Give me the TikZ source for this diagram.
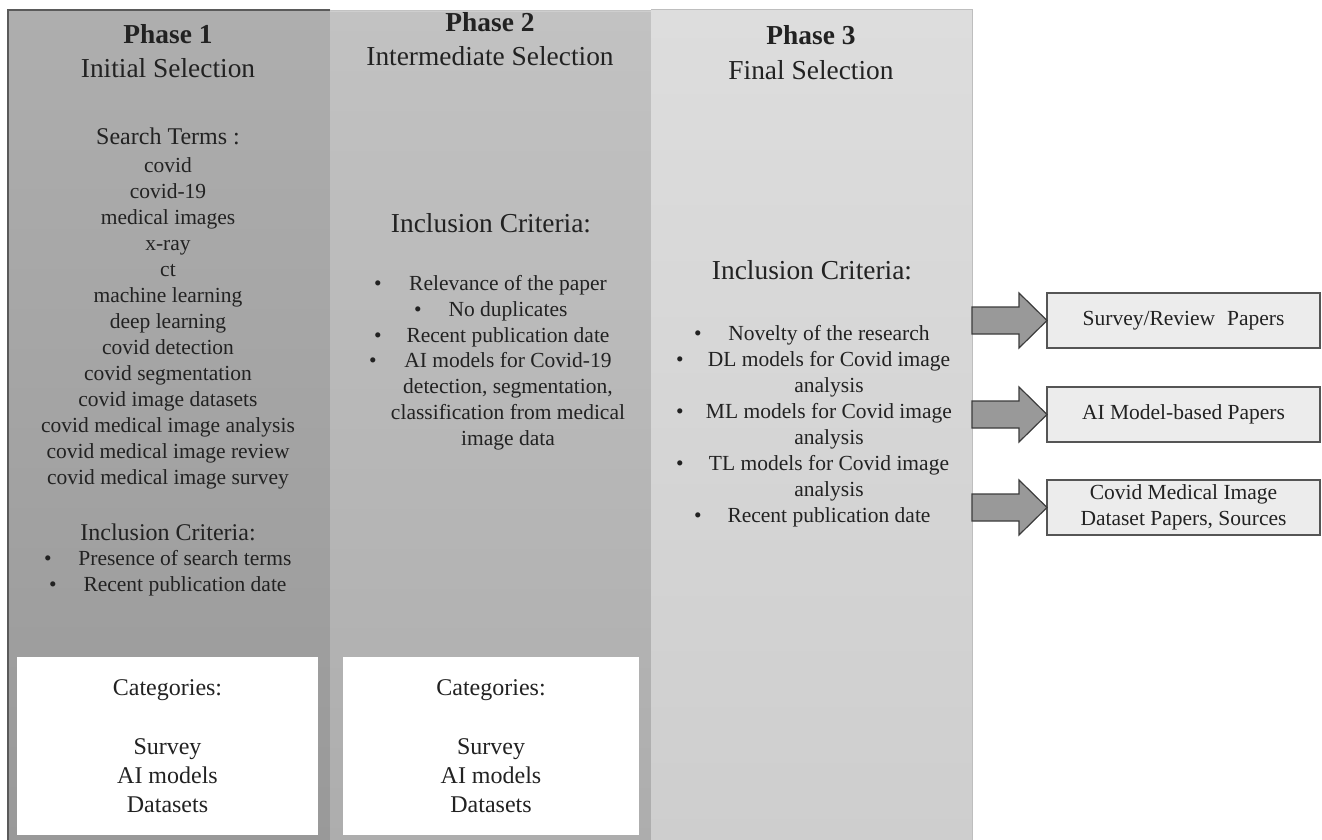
\documentclass[tikz,border=0pt]{standalone}
\usepackage{fontspec}
\setmainfont{Liberation Serif}
\usetikzlibrary{calc,shadings}

\definecolor{ink}{HTML}{222222}
\definecolor{colAtop}{HTML}{AEAEAE}
\definecolor{colAbot}{HTML}{999999}
\definecolor{colBtop}{HTML}{C2C2C2}
\definecolor{colBbot}{HTML}{ADADAD}
\definecolor{colCtop}{HTML}{DDDDDD}
\definecolor{colCbot}{HTML}{CECECE}
\definecolor{edgeA}{HTML}{5A5A5A}
\definecolor{edgeC}{HTML}{BEBEBE}
\definecolor{arrowfill}{HTML}{999999}
\definecolor{arrowedge}{HTML}{3C3C3C}
\definecolor{outfill}{HTML}{ECECEC}
\definecolor{outedge}{HTML}{555555}

\begin{document}
\begin{tikzpicture}[x=1pt,y=-1pt,
  column/.style={inner sep=0pt, outer sep=0pt, minimum width=321pt,
    minimum height=836pt, anchor=north west},
  body/.style={font=\fontsize{21.5}{26}\selectfont, text=ink, inner sep=0pt, anchor=base},
  mid/.style={font=\fontsize{24}{29}\selectfont, text=ink, inner sep=0pt, anchor=base},
  big/.style={font=\fontsize{27.4}{32}\selectfont, text=ink, inner sep=0pt, anchor=base},
  phase/.style={font=\fontsize{27.4}{32}\selectfont\bfseries, text=ink, inner sep=0pt, anchor=base},
  dot/.style={body},
  catbox/.style={fill=white, inner sep=0pt, outer sep=0pt, anchor=north west},
  outbox/.style={draw=outedge, line width=1.2pt, fill=outfill, inner sep=0pt, outer sep=0pt,
    minimum width=273pt, minimum height=55pt, align=center,
    font=\fontsize{21.5}{26}\selectfont, text=ink},
  blockarrow/.style={draw=arrowedge, fill=arrowfill, line width=1.2pt, line join=miter}]
\useasboundingbox (0,0) rectangle (1322,840);

% ---- the three phase columns ----
\node[column, top color=colAtop, bottom color=colAbot, minimum width=322pt] (col1) at (8,10) {};
\node[column, top color=colBtop, bottom color=colBbot] (col2) at (330,11) {};
\node[column, top color=colCtop, bottom color=colCbot] (col3) at (651,10) {};
\draw[edgeA, line width=1.5pt] (col1.south west) -- (col1.north west) -- (col1.north east);
\draw[edgeC, line width=1pt] (col3.north west) -- (col3.north east) -- (col3.south east);
\draw[colBtop!80!white, line width=0.8pt] (col2.north west) -- (col2.north east);

% ---- Phase 1 ----
\node[phase] (p1) at (168,44) {Phase 1};
\node[big] (p1s) at (168,78) {Initial Selection};
\node[mid] (st) at (168,145) {Search Terms :};
\foreach \term [count=\i] in {covid, covid-19, medical images, x-ray, ct,
  machine learning, deep learning, covid detection, covid segmentation,
  covid image datasets, covid medical image analysis,
  covid medical image review, covid medical image survey}
  \node[body] (term\i) at (168,{172+26*(\i-1)}) {\term};
\node[mid] (ic1) at (168,540) {Inclusion Criteria:};
\node[dot] (b1a) at (48,565) {\textbullet};
\node[body] (c1a) at (185,565) {Presence of search terms};
\node[dot] (b1b) at (53,591) {\textbullet};
\node[body] (c1b) at (185,591) {Recent publication date};

% ---- Phase 2 ----
\node[phase] (p2) at (490,32) {Phase 2};
\node[big] (p2s) at (490,66) {Intermediate Selection};
\node[big] (ic2) at (491,232) {Inclusion Criteria:};
\node[dot] (b2a) at (378,290) {\textbullet};
\node[body] (c2a) at (508,290) {Relevance of the paper};
\node[dot] (b2b) at (418,316) {\textbullet};
\node[body] (c2b) at (508,316) {No duplicates};
\node[dot] (b2c) at (378,342) {\textbullet};
\node[body] (c2c) at (508,342) {Recent publication date};
\node[dot] (b2d) at (373,367) {\textbullet};
\node[body] (c2d) at (508,367) {AI models for Covid-19};
\node[body] (c2e) at (508,393) {detection, segmentation,};
\node[body] (c2f) at (508,419) {classification from medical};
\node[body] (c2g) at (508,445) {image data};

% ---- Phase 3 ----
\node[phase] (p3) at (811,45) {Phase 3};
\node[big] (p3s) at (811,80) {Final Selection};
\node[big] (ic3) at (812,279) {Inclusion Criteria:};
\node[dot] (b3a) at (698,340) {\textbullet};
\node[body] (c3a) at (829,340) {Novelty of the research};
\node[dot] (b3b) at (680,366) {\textbullet};
\node[body] (c3b) at (829,366) {DL models for Covid image};
\node[body] (c3c) at (829,392) {analysis};
\node[dot] (b3d) at (680,418) {\textbullet};
\node[body] (c3d) at (829,418) {ML models for Covid image};
\node[body] (c3e) at (829,444) {analysis};
\node[dot] (b3f) at (680,470) {\textbullet};
\node[body] (c3f) at (829,470) {TL models for Covid image};
\node[body] (c3g) at (829,496) {analysis};
\node[dot] (b3h) at (698,522) {\textbullet};
\node[body] (c3h) at (829,522) {Recent publication date};

% ---- category boxes ----
\node[catbox, minimum width=301pt, minimum height=178pt] (cat1) at (17,657) {};
\node[catbox, minimum width=296pt, minimum height=178pt] (cat2) at (343,657) {};
\foreach \b/\x in {cat1/167.5, cat2/491} {
  \node[mid] (\b-h) at (\x,695) {Categories:};
  \node[mid] (\b-s) at (\x,754) {Survey};
  \node[mid] (\b-m) at (\x,783) {AI models};
  \node[mid] (\b-d) at (\x,812) {Datasets};
}

% ---- output boxes ----
\node[outbox] (r1) at (1183.5,320.5) {Survey/Review\hspace{0.3em} Papers};
\node[outbox] (r2) at (1183.5,414.5) {AI Model-based Papers};
\node[outbox] (r3) at (1183.5,507.5) {Covid Medical Image\\Dataset Papers, Sources};

% ---- block arrows from the final phase to the outputs ----
\foreach \r in {r1, r2, r3} {
  \coordinate (tail-\r) at (col3.east |- \r.west);
  \draw[blockarrow] ($(tail-\r)+(0,-13.5)$) -- ($(tail-\r)+(47,-13.5)$)
    -- ($(tail-\r)+(47,-27.5)$) -- (\r.west) -- ($(tail-\r)+(47,27.5)$)
    -- ($(tail-\r)+(47,13.5)$) -- ($(tail-\r)+(0,13.5)$) -- cycle;
}
\end{tikzpicture}
\end{document}
